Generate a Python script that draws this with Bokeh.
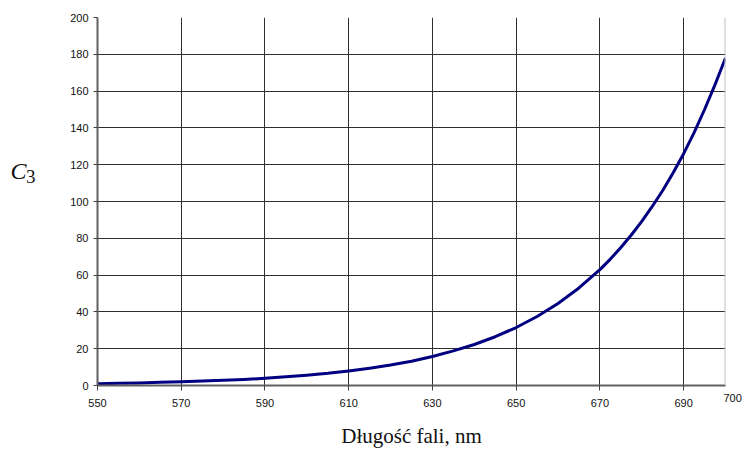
from bokeh.plotting import figure
from bokeh.models import Range1d, FixedTicker, Span, LinearAxis
from bokeh.embed import file_html
from bokeh.resources import INLINE

# wavelength, nm
wavelength = [550, 555, 560, 565, 570, 575, 580, 585, 590, 595, 600, 605, 610, 615, 620,
              625, 630, 635, 640, 645, 650, 655, 660, 665, 670, 672.5, 675, 677.5, 680,
              682.5, 685, 687.5, 690, 692.5, 695, 697.5, 700]
# C3 values
c3 = [1.0, 1.2, 1.4, 1.7, 2.0, 2.4, 2.8, 3.3, 3.9, 4.7, 5.6, 6.6, 7.9, 9.4, 11.1,
      13.2, 15.8, 18.8, 22.3, 26.5, 31.5, 37.5, 44.6, 53.0, 63.0, 68.7, 75.0, 81.8, 89.2,
      97.3, 106.0, 115.6, 126.0, 137.4, 150.0, 163.5, 178.0]

x_ticks = [550, 570, 590, 610, 630, 650, 670, 690]
y_ticks = [0, 20, 40, 60, 80, 100, 120, 140, 160, 180, 200]
x_end_label = "700"
x_label = "Długość fali, nm"
y_label_main = "C"
y_label_sub = "3"

NB = "\u00a0"

W, H = 745, 450
p = figure(width=W, height=H, output_backend="svg", toolbar_location=None,
           x_range=Range1d(550, 700), y_range=Range1d(0, 200),
           min_border_left=97, min_border_right=20, min_border_top=17, min_border_bottom=65)
p.outline_line_color = None
p.background_fill_color = "white"
p.border_fill_color = "white"

p.xaxis.ticker = FixedTicker(ticks=x_ticks)
p.yaxis.ticker = FixedTicker(ticks=y_ticks)
for ax in (p.xaxis, p.yaxis):
    ax.major_label_text_font = "Liberation Sans"
    ax.major_label_text_font_size = "11px"
    ax.major_label_text_color = "#111111"
    ax.axis_line_color = "#606060"
    ax.axis_line_width = 2
    ax.major_tick_line_color = "#404040"
    ax.major_tick_in = 0
    ax.minor_tick_line_color = None
p.xaxis.major_tick_out = 5
p.yaxis.major_tick_out = 4
p.xaxis.major_label_standoff = 8
p.yaxis.major_label_standoff = 5

p.xaxis.axis_label = x_label
p.xaxis.axis_label_text_font = "Liberation Serif"
p.xaxis.axis_label_text_font_style = "normal"
p.xaxis.axis_label_text_font_size = "21px"
p.xaxis.axis_label_text_color = "#111111"
p.xaxis.axis_label_standoff = 14

p.xgrid.grid_line_color = "#303030"
p.ygrid.grid_line_color = "#303030"
p.xgrid.grid_line_width = 1
p.ygrid.grid_line_width = 1

p.add_layout(Span(location=700, dimension="height", line_color="#c0c0c0", line_width=2))

p.line(wavelength, c3, line_color="#000080", line_width=3, line_join="round")


def label_axis(text, standoff, font, size, style, line_height):
    ax = LinearAxis(ticker=FixedTicker(ticks=[]))
    ax.axis_line_color = None
    ax.major_tick_line_color = None
    ax.minor_tick_line_color = None
    ax.major_tick_out = 0
    ax.major_tick_in = 0
    ax.minor_tick_out = 0
    ax.major_label_standoff = 0
    ax.axis_label = text
    ax.axis_label_orientation = "horizontal"
    ax.axis_label_standoff = standoff
    ax.axis_label_text_font = font
    ax.axis_label_text_font_size = size
    ax.axis_label_text_font_style = style
    ax.axis_label_text_line_height = line_height
    ax.axis_label_text_color = "#111111"
    return ax


# y label "C" with subscript "3" (second blank line lifts each above the frame centre)
p.add_layout(label_axis(y_label_sub + "\n" + NB, 32, "Liberation Serif", "19px", "normal", 2.39), "left")
p.add_layout(label_axis(y_label_main + "\n" + NB, -4, "Liberation Serif", "24px", "italic", 2.31), "left")
# "700" at the end of the x axis (blank first line pushes it down to the axis)
p.add_layout(label_axis(NB + "\n" + x_end_label, -2, "Liberation Sans", "11px", "normal", 32.8), "right")

open("out.html", "w").write(file_html(p, INLINE))
